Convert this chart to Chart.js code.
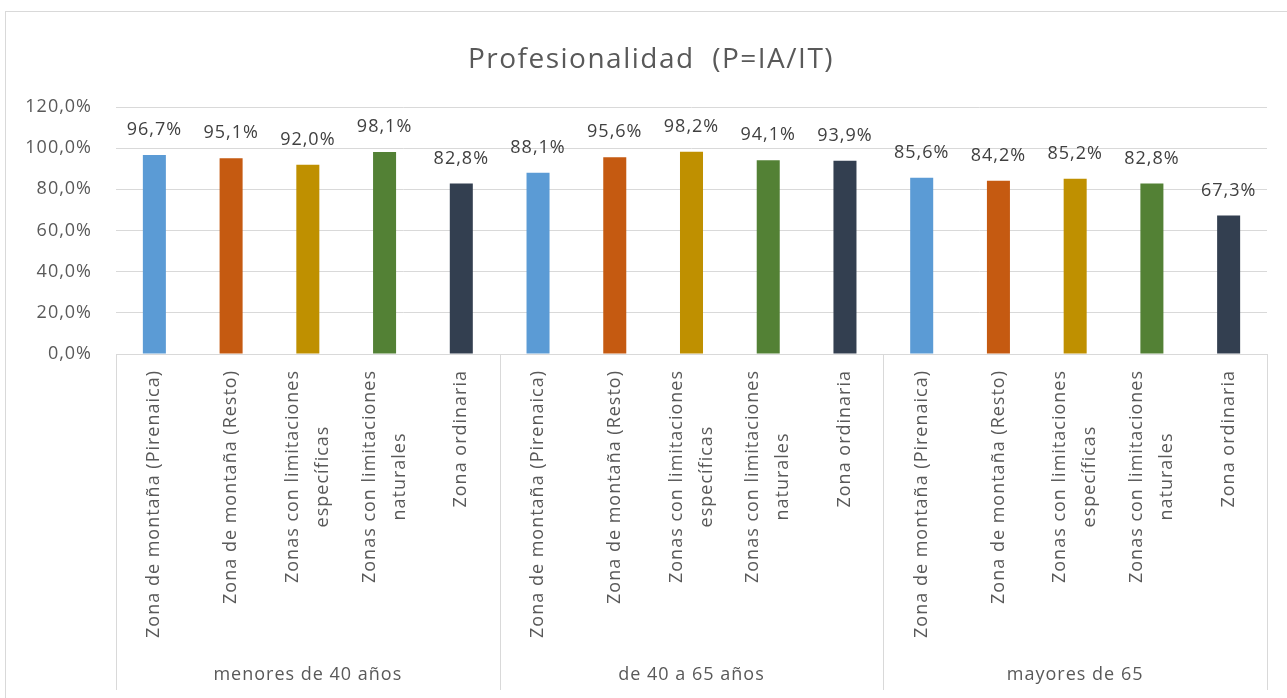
<!DOCTYPE html>
<html>
<head>
<meta charset="utf-8">
<script src="https://cdn.jsdelivr.net/npm/chart.js@4"></script>
<style>
  html, body { margin: 0; padding: 0; background: #ffffff; }
  #wrap { position: relative; width: 1287px; height: 698px; }
</style>
</head>
<body>
<div id="wrap"><canvas id="c"></canvas></div>
<script>
const titleText = 'Profesionalidad  (P=IA/IT)';
const groupLabels = ['menores de 40 años', 'de 40 a 65 años', 'mayores de 65'];
const zoneLabels = [
  ['Zona de montaña (Pirenaica)'],
  ['Zona de montaña (Resto)'],
  ['Zonas con limitaciones', 'específicas'],
  ['Zonas con limitaciones', 'naturales'],
  ['Zona ordinaria']
];
const zoneColors = ['#5B9BD5', '#C55A11', '#BF9000', '#538135', '#333F50'];
const menores40 = [96.7, 95.1, 92.0, 98.1, 82.8];
const de40a65 = [88.1, 95.6, 98.2, 94.1, 93.9];
const mayores65 = [85.6, 84.2, 85.2, 82.8, 67.3];
const yTicks = [0, 20, 40, 60, 80, 100, 120];

const seriesByGroup = [menores40, de40a65, mayores65];
const labels = [];
const values = [];
const colors = [];
seriesByGroup.forEach((arr, g) => {
  arr.forEach((v, z) => {
    labels.push(zoneLabels[z]);
    values.push(v);
    colors.push(zoneColors[z]);
  });
});

const FONT = '"Open Sans", "Liberation Sans", sans-serif';
const fmt = v => v.toFixed(1).replace('.', ',') + '%';

const spacing = {
  id: 'spacing',
  beforeUpdate(chart) { chart.ctx.letterSpacing = '1px'; },
  beforeDraw(chart) { chart.ctx.letterSpacing = '1px'; }
};

const overlay = {
  id: 'overlay',
  afterDraw(chart) {
    const ctx = chart.ctx;
    const xs = chart.scales.x;
    const ca = chart.chartArea;
    const meta = chart.getDatasetMeta(0);
    ctx.save();
    // outer border
    ctx.strokeStyle = '#D9D9D9';
    ctx.lineWidth = 1;
    ctx.strokeRect(5.5, 11.5, 1300, 700);

    // title
    ctx.letterSpacing = '1.5px';
    ctx.fillStyle = '#595959';
    ctx.font = '28px ' + FONT;
    ctx.textAlign = 'center';
    ctx.textBaseline = 'middle';
    ctx.fillText(titleText, 651, 60);

    ctx.letterSpacing = '1px';
    // data labels
    ctx.fillStyle = '#404040';
    ctx.font = '18px ' + FONT;
    ctx.textAlign = 'center';
    ctx.textBaseline = 'middle';
    meta.data.forEach((bar, i) => {
      ctx.fillText(fmt(values[i]), bar.x, bar.y - 25);
    });

    // group separators
    ctx.strokeStyle = '#D9D9D9';
    ctx.lineWidth = 1;
    const nGroups = groupLabels.length;
    const per = zoneLabels.length;
    for (let g = 0; g <= nGroups; g++) {
      const x = Math.round(xs.getPixelForValue(g * per - 0.5)) + 0.5;
      ctx.beginPath();
      ctx.moveTo(x, ca.bottom);
      ctx.lineTo(x, 690);
      ctx.stroke();
    }

    // category labels (rotated)
    ctx.fillStyle = '#595959';
    ctx.font = '18px ' + FONT;
    const lineH = 30;
    labels.forEach((lines, i) => {
      const x = xs.getPixelForValue(i);
      let w = 0;
      lines.forEach(l => { w = Math.max(w, ctx.measureText(l).width); });
      ctx.save();
      ctx.translate(x, ca.bottom + 16);
      ctx.rotate(-Math.PI / 2);
      ctx.textAlign = 'center';
      ctx.textBaseline = 'middle';
      lines.forEach((l, k) => {
        const off = (k - (lines.length - 1) / 2) * lineH;
        ctx.fillText(l, -w / 2, off);
      });
      ctx.restore();
    });

    // group labels
    ctx.textAlign = 'center';
    ctx.textBaseline = 'middle';
    groupLabels.forEach((gl, g) => {
      const x0 = xs.getPixelForValue(g * per - 0.5);
      const x1 = xs.getPixelForValue((g + 1) * per - 0.5);
      ctx.fillText(gl, (x0 + x1) / 2, 675);
    });
    ctx.restore();
  }
};

new Chart(document.getElementById('c'), {
  type: 'bar',
  data: {
    labels: labels,
    datasets: [{
      data: values,
      backgroundColor: colors,
      borderWidth: 0,
      categoryPercentage: 1,
      barPercentage: 0.3
    }]
  },
  options: {
    responsive: true,
    maintainAspectRatio: false,
    animation: false,
    layout: { padding: { left: 0, right: 20, top: 107, bottom: 0 } },
    plugins: {
      legend: { display: false },
      tooltip: { enabled: false },
      title: { display: false }
    },
    scales: {
      x: {
        grid: { display: false },
        border: { display: true, color: '#D9D9D9' },
        ticks: { display: false },
        afterFit(scale) { scale.height = 344; }
      },
      y: {
        min: 0,
        max: 120,
        afterBuildTicks(scale) { scale.ticks = yTicks.map(v => ({ value: v })); },
        grid: { color: '#D9D9D9', drawTicks: false },
        border: { display: false },
        ticks: {
          padding: 24,
          color: '#595959',
          font: { family: FONT, size: 18 },
          callback: v => fmt(v)
        },
        afterFit(scale) { scale.width = 116; }
      }
    }
  },
  plugins: [spacing, overlay]
});
</script>
</body>
</html>
